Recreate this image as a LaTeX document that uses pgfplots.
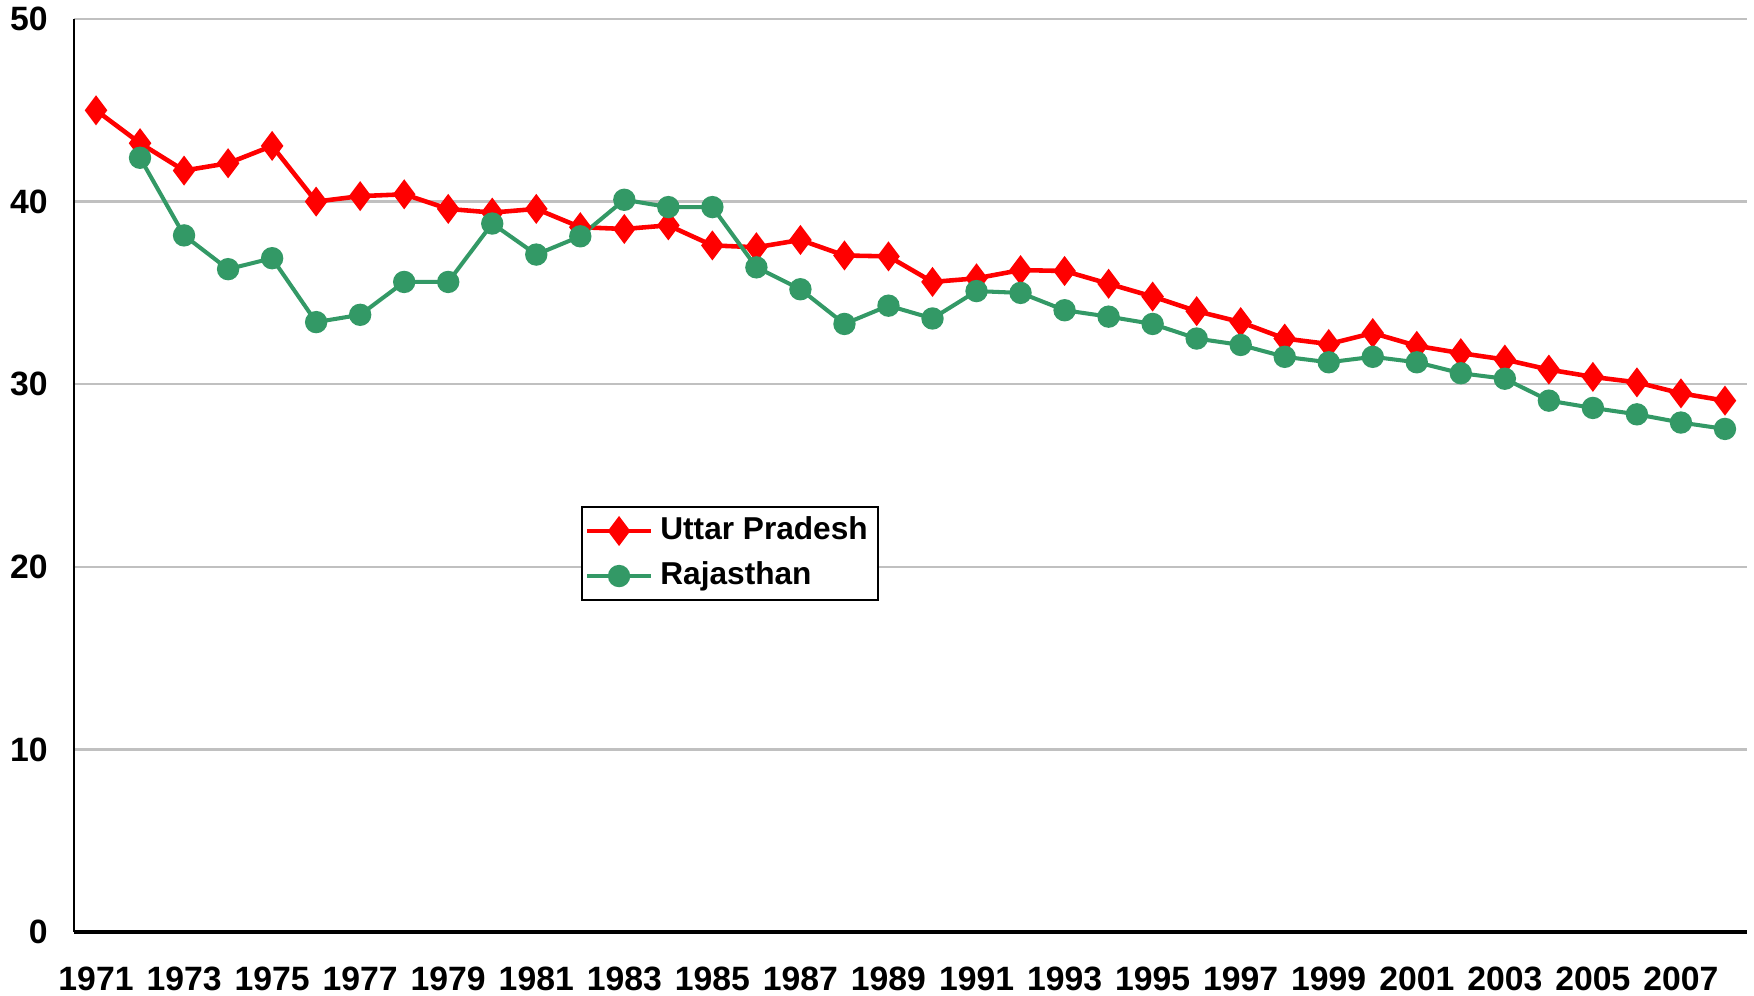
\documentclass[border=0pt]{standalone}
\usepackage{pgfplots}
\pgfplotsset{compat=1.18}
\usepackage{fontspec}
\setmainfont{Liberation Sans}
\definecolor{upred}{RGB}{255,0,0}
\definecolor{rjgreen}{RGB}{51,153,102}
\definecolor{gridgray}{RGB}{192,192,192}
\begin{document}
\begin{tikzpicture}
\useasboundingbox (-0.74,-0.63) rectangle (16.80,9.32);
\begin{axis}[
  at={(0,0)}, anchor=south west,
  width=16.73cm, height=9.13cm, scale only axis,
  xmin=1970.5, xmax=2008.5,
  ymin=0, ymax=50,
  ytick={0,10,20,30,40,50},
  xtick={1971,1973,...,2007},
  axis x line*=bottom, axis y line*=left,
  x axis line style={-, line width=1.2pt, black},
  y axis line style={-, line width=0.8pt, black},
  major tick length=0pt,
  ymajorgrids=true,
  grid style={gridgray, line width=0.7pt},
  /pgf/number format/assume math mode=true,
  /pgf/number format/1000 sep={},
  ticklabel style={font=\bfseries\fontsize{9.6}{11}\selectfont},
  xticklabel style={yshift=-0.23cm},
  yticklabel style={xshift=-0.14cm},
  legend style={at={(rel axis cs:0.303,0.4666)}, anchor=north west,
    draw=black, line width=0.6pt, font=\bfseries\fontsize{9}{10}\selectfont,
    inner sep=0.8pt, row sep=0.8pt},
  legend cell align=left,
  legend image code/.code={\draw[mark repeat=2,mark phase=2] plot coordinates {(0cm,0cm) (0.32cm,0cm) (0.64cm,0cm)};},
]
\addplot[upred, line width=1.3pt, mark=diamond*, mark size=3.2pt, mark options={solid, fill=upred}] coordinates {
(1971,45.0) (1972,43.2) (1973,41.7) (1974,42.1) (1975,43.05) (1976,40.0) (1977,40.3) (1978,40.4) (1979,39.6) (1980,39.4)
(1981,39.6) (1982,38.6) (1983,38.5) (1984,38.7) (1985,37.6) (1986,37.5) (1987,37.9) (1988,37.05) (1989,37.0) (1990,35.6)
(1991,35.8) (1992,36.25) (1993,36.2) (1994,35.5) (1995,34.8) (1996,34.0) (1997,33.4) (1998,32.5) (1999,32.2) (2000,32.8)
(2001,32.1) (2002,31.7) (2003,31.35) (2004,30.8) (2005,30.4) (2006,30.1) (2007,29.5) (2008,29.1)
};
\addlegendentry{Uttar Pradesh}
\addplot[rjgreen, line width=1.15pt, mark=*, mark size=2.6pt, mark options={solid, fill=rjgreen}] coordinates {
(1972,42.4) (1973,38.15) (1974,36.3) (1975,36.9) (1976,33.4) (1977,33.8) (1978,35.6) (1979,35.6) (1980,38.8)
(1981,37.1) (1982,38.1) (1983,40.1) (1984,39.7) (1985,39.7) (1986,36.4) (1987,35.2) (1988,33.3) (1989,34.3) (1990,33.6)
(1991,35.1) (1992,35.0) (1993,34.05) (1994,33.7) (1995,33.3) (1996,32.5) (1997,32.15) (1998,31.5) (1999,31.2) (2000,31.5)
(2001,31.2) (2002,30.6) (2003,30.3) (2004,29.1) (2005,28.7) (2006,28.35) (2007,27.9) (2008,27.55)
};
\addlegendentry{Rajasthan}
\end{axis}
\end{tikzpicture}
\end{document}
